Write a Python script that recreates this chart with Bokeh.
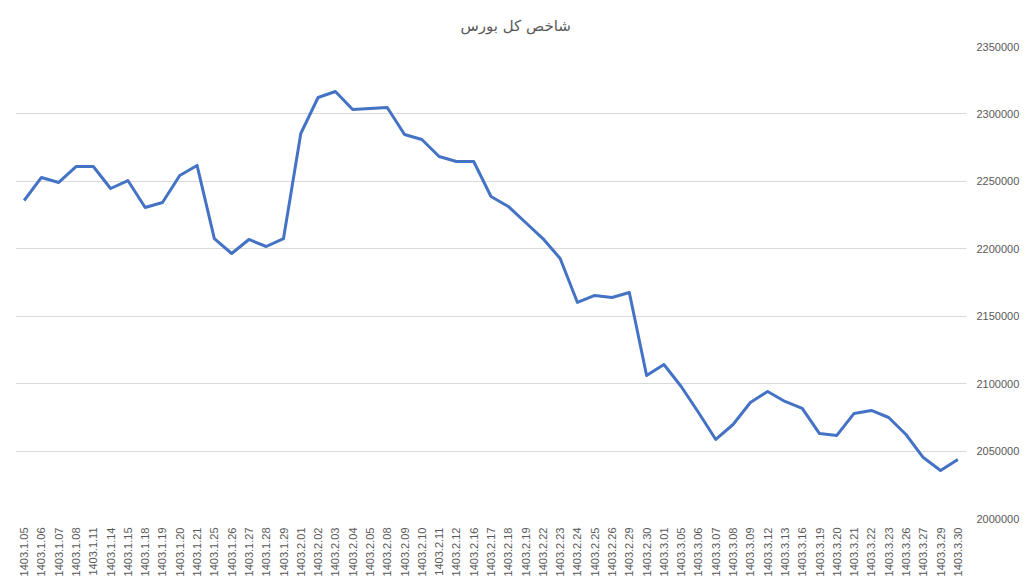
from bokeh.plotting import figure
from bokeh.models import FactorRange, Range1d, FixedTicker, NumeralTickFormatter
from bokeh.embed import file_html
from bokeh.resources import INLINE

title_text = "شاخص کل بورس"

dates = [
    "1403.1.05", "1403.1.06", "1403.1.07", "1403.1.08", "1403.1.11", "1403.1.14",
    "1403.1.15", "1403.1.18", "1403.1.19", "1403.1.20", "1403.1.21", "1403.1.25",
    "1403.1.26", "1403.1.27", "1403.1.28", "1403.1.29", "1403.2.01", "1403.2.02",
    "1403.2.03", "1403.2.04", "1403.2.05", "1403.2.08", "1403.2.09", "1403.2.10",
    "1403.2.11", "1403.2.12", "1403.2.16", "1403.2.17", "1403.2.18", "1403.2.19",
    "1403.2.22", "1403.2.23", "1403.2.24", "1403.2.25", "1403.2.26", "1403.2.29",
    "1403.2.30", "1403.3.01", "1403.3.05", "1403.3.06", "1403.3.07", "1403.3.08",
    "1403.3.09", "1403.3.12", "1403.3.13", "1403.3.16", "1403.3.19", "1403.3.20",
    "1403.3.21", "1403.3.22", "1403.3.23", "1403.3.26", "1403.3.27", "1403.3.29",
    "1403.3.30",
]

index_values = [
    2235800, 2252900, 2249200, 2261000, 2261000, 2244700,
    2250600, 2230600, 2234300, 2254300, 2261800, 2207600,
    2196500, 2206900, 2201700, 2207600, 2285500, 2312200,
    2316600, 2303300, 2304000, 2304800, 2284700, 2281000,
    2268400, 2264700, 2264700, 2238800, 2231400, 2219500,
    2207600, 2192800, 2160200, 2165400, 2163900, 2167600,
    2106000, 2114200, 2097900, 2078600, 2058600, 2069700,
    2086000, 2094200, 2086800, 2081600, 2063000, 2061600,
    2077900, 2080100, 2074900, 2062300, 2045200, 2035600,
    2043800,
]

y_ticks = [2000000, 2050000, 2100000, 2150000, 2200000, 2250000, 2300000, 2350000]

TEXT = "#595959"
GRID = "#D9D9D9"
BLUE = "#4472C4"

p = figure(
    frame_width=951, frame_height=472,
    x_range=FactorRange(factors=dates, range_padding=0),
    y_range=Range1d(2000000, 2350000),
    output_backend="svg", toolbar_location=None,
    y_axis_location="right",
    min_border_left=15, min_border_top=46, min_border_bottom=64, min_border_right=60,
)

p.title.text = title_text
p.title.align = "left"
p.title.offset = 445
p.title.standoff = 23
p.title.text_font = "DejaVu Sans"
p.title.text_font_size = "15px"
p.title.text_font_style = "normal"
p.title.text_color = TEXT

p.line(dates, index_values, line_color=BLUE, line_width=3, line_join="round")

p.outline_line_color = None
p.xgrid.grid_line_color = None
p.ygrid.grid_line_color = GRID
p.ygrid.grid_line_width = 1

ya = p.yaxis[0]
ya.ticker = FixedTicker(ticks=y_ticks)
ya.formatter = NumeralTickFormatter(format="0")
ya.axis_line_color = None
ya.major_tick_line_color = None
ya.minor_tick_line_color = None
ya.major_tick_out = 0
ya.major_tick_in = 0
ya.minor_tick_out = 0
ya.major_label_text_font = "Liberation Sans"
ya.major_label_text_font_size = "11px"
ya.major_label_text_color = TEXT
ya.major_label_standoff = 10

xa = p.xaxis[0]
xa.axis_line_color = None
xa.major_tick_line_color = None
xa.minor_tick_line_color = None
xa.major_tick_out = 0
xa.major_tick_in = 0
xa.minor_tick_out = 0
xa.major_label_orientation = 1.5707963
xa.major_label_text_font = "Liberation Sans"
xa.major_label_text_font_size = "11px"
xa.major_label_text_color = TEXT
xa.major_label_standoff = 9

open("out.html", "w").write(file_html(p, INLINE))
